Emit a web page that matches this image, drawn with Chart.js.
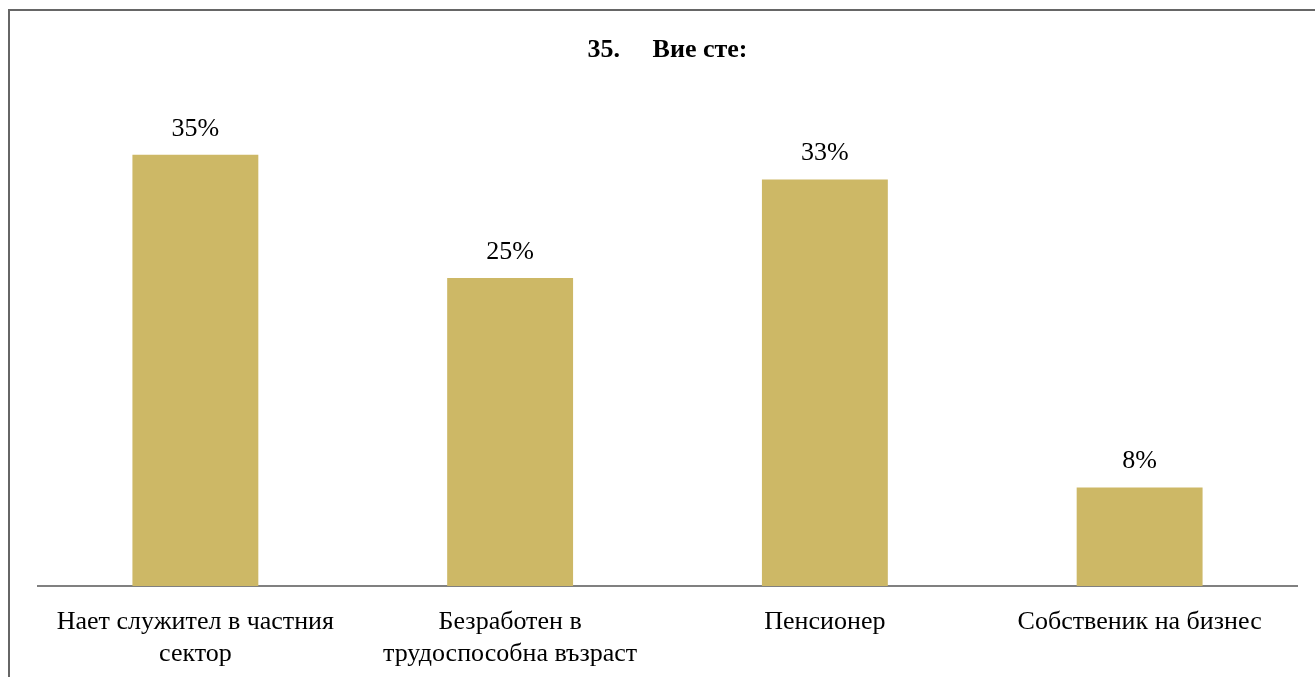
<!DOCTYPE html>
<html>
<head>
<meta charset="utf-8">
<script src="https://cdn.jsdelivr.net/npm/chart.js@4"></script>
<style>
  html, body { margin: 0; padding: 0; background: #fff; overflow: hidden; }
  #frame {
    position: absolute; left: 8px; top: 9px;
    border-left: 2px solid #666; border-top: 2px solid #666;
  }
  canvas { display: block; }
</style>
</head>
<body>
<div id="frame"><canvas id="chart" width="1305" height="679"></canvas></div>
<script>
let categories = [
  ['Нает служител в частния', 'сектор'],
  ['Безработен в', 'трудоспособна възраст'],
  ['Пенсионер'],
  ['Собственик на бизнес']
];
let values = [35, 25, 33, 8];
let titleText = '35.     Вие сте:';

let ctx = document.getElementById('chart').getContext('2d');

// percent labels above the bars
let barLabels = {
  id: 'barLabels',
  afterDatasetsDraw(chart) {
    let c = chart.ctx;
    let meta = chart.getDatasetMeta(0);
    c.save();
    c.font = '26px "Liberation Serif"';
    c.fillStyle = '#000';
    c.textAlign = 'center';
    c.textBaseline = 'alphabetic';
    meta.data.forEach((bar, i) => {
      c.fillText(values[i] + '%', bar.x, bar.y - 19);
    });
    c.restore();
  }
};

let chart = new Chart(ctx, {
  type: 'bar',
  data: {
    labels: categories,
    datasets: [{
      data: values,
      backgroundColor: '#CDB866',
      borderWidth: 0,
      barPercentage: 0.4,
      categoryPercentage: 1
    }]
  },
  options: {
    animation: false,
    responsive: false,
    layout: { padding: { left: 28, right: 18, top: 0, bottom: 0 } },
    plugins: {
      legend: { display: false },
      tooltip: { enabled: false },
      title: {
        display: true,
        text: titleText,
        color: '#000',
        font: { family: '"Liberation Serif"', size: 26, weight: 'bold', lineHeight: 1.2 },
        padding: { top: 24, bottom: 27 }
      }
    },
    scales: {
      x: {
        grid: { display: false, drawTicks: false },
        border: { color: '#808080', width: 2 },
        ticks: {
          color: '#000',
          padding: 20,
          maxRotation: 0,
          autoSkip: false,
          font: { family: '"Liberation Serif"', size: 26, lineHeight: 1.23 }
        }
      },
      y: { display: false, min: 0, max: 40 }
    }
  },
  plugins: [barLabels]
});
</script>
</body>
</html>
